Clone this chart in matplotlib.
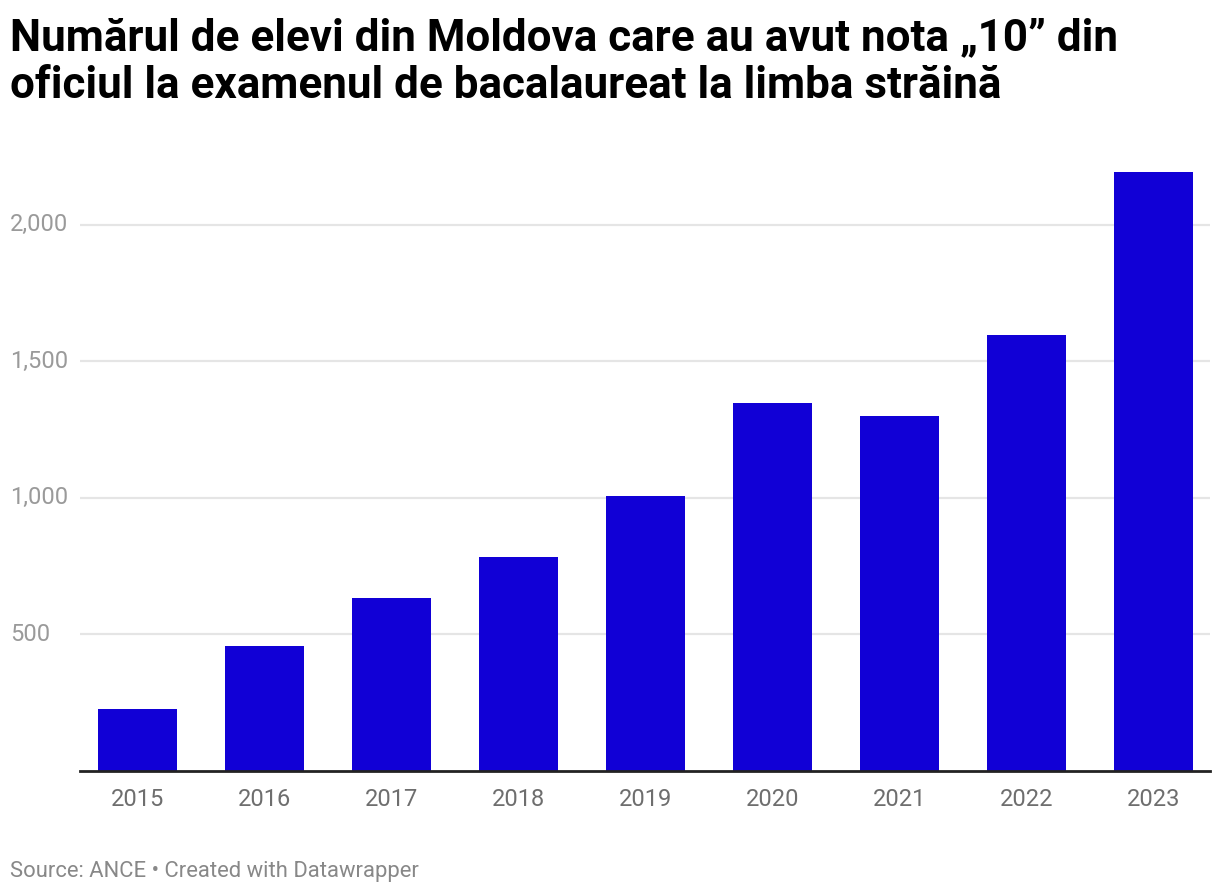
"""Bar chart: elevi cu nota 10 la bacalaureat, limba străină (Moldova)."""

import matplotlib

matplotlib.use("Agg")
import matplotlib.pyplot as plt
from matplotlib.transforms import blended_transform_factory

years = ["2015", "2016", "2017", "2018", "2019", "2020", "2021", "2022", "2023"]
students = [227, 457, 633, 783, 1006, 1347, 1299, 1596, 2192]
y_ticks = [500, 1000, 1500, 2000]
y_tick_labels = ["500", "1,000", "1,500", "2,000"]
title_lines = [
    "Numărul de elevi din Moldova care au avut nota „10” din",
    "oficiul la examenul de bacalaureat la limba străină",
]

BAR_COLOR = "#1100d6"

plt.rcParams["font.family"] = ["Roboto", "DejaVu Sans"]

fig = plt.figure(figsize=(12.2, 8.94), dpi=100)
ax = fig.add_axes([80 / 1220, 1 - 771 / 894, 1130 / 1220, (771 - 165) / 894])

x = range(len(years))
ax.bar(x, students, width=0.622, color=BAR_COLOR, zorder=3)

ax.set_xlim(-0.453, len(years) - 1 + 0.445)
ax.set_ylim(0, 2218)

ax.set_yticks(y_ticks)
ax.set_yticklabels([])
ax.yaxis.grid(True, color="#e5e5e5", linewidth=1.6, zorder=0)
ax.tick_params(axis="y", length=0)
label_tf = blended_transform_factory(fig.transFigure, ax.transData)
for v, lab in zip(y_ticks, y_tick_labels):
    ax.text(10 / 1220, v, lab, transform=label_tf,
            ha="left", va="center", fontsize=17, color="#9a9a9a")

ax.set_xticks(list(x))
ax.set_xticklabels(years, fontsize=17, color="#6e6e6e")
ax.tick_params(axis="x", length=0, pad=12.5)

for side in ("top", "right", "left"):
    ax.spines[side].set_visible(False)
ax.spines["bottom"].set_color("#222222")
ax.spines["bottom"].set_linewidth(2)
ax.spines["bottom"].set_zorder(4)

for i, line in enumerate(title_lines):
    fig.text(10 / 1220, 1 - (50 + 48 * i) / 894, line,
             fontsize=31.7, fontweight="bold", color="#000000",
             ha="left", va="baseline")
fig.text(10 / 1220, 1 - 877 / 894, "Source: ANCE • Created with Datawrapper",
         fontsize=15.8, color="#888888", ha="left", va="baseline")

fig.savefig("out.png", dpi=100)
